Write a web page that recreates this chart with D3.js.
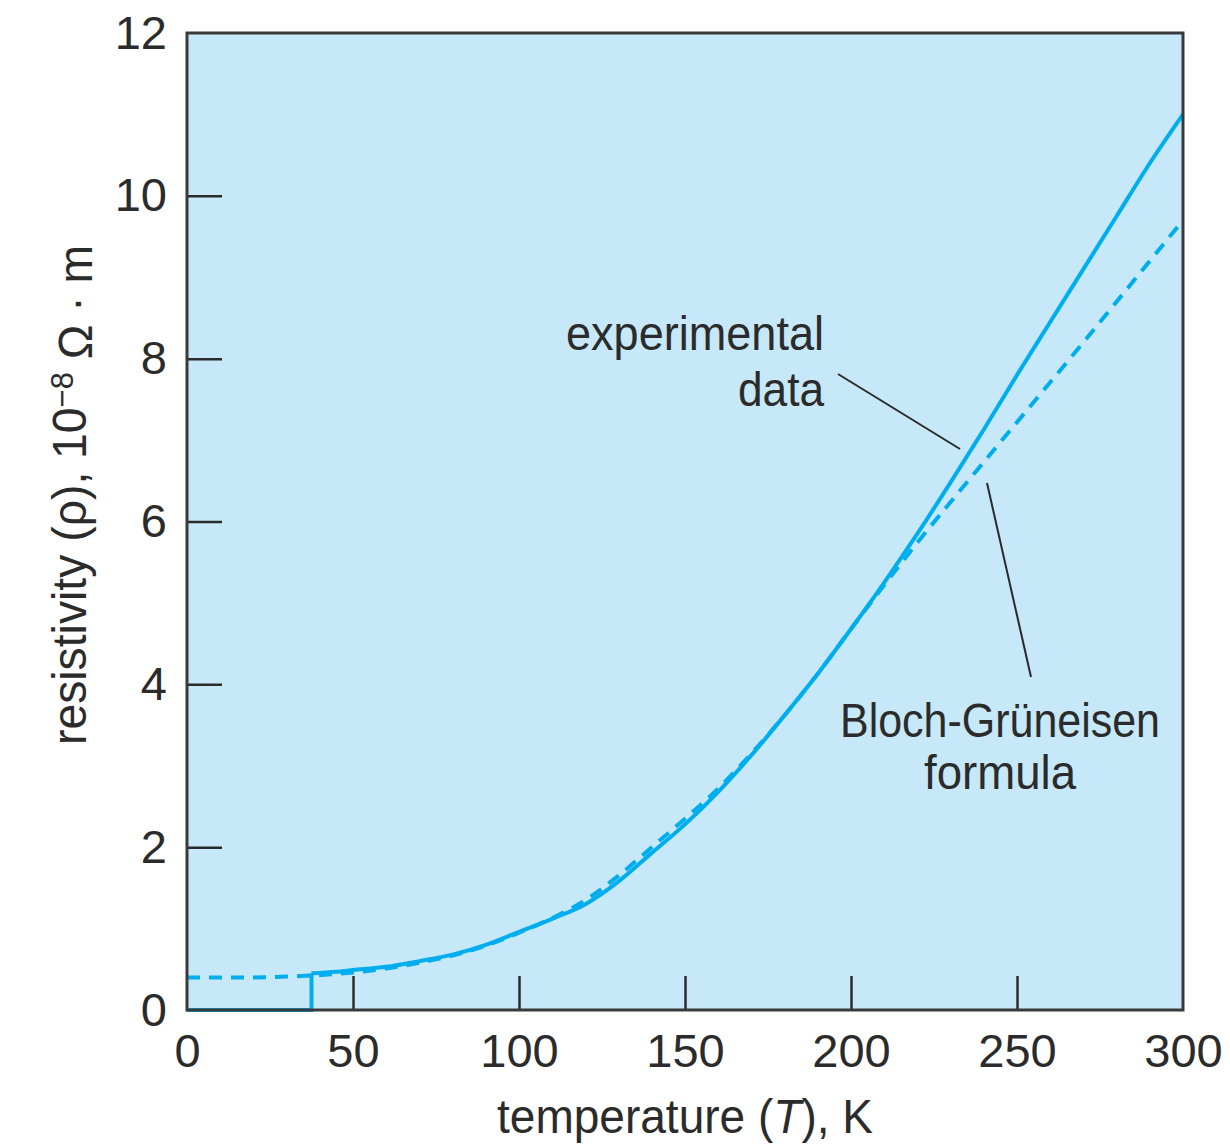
<html>
<head>
    <script src="https://d3js.org/d3.v7.min.js"></script>
    <style>
        body { margin: 0; background: #fff; }
    </style>
</head>
<body>
<div id="vis"></div>
<script>

    // temperature (K) and resistivity (10^-8 ohm m)
    var expT = [0, 37.5, 37.5, 45, 50, 60, 70, 80, 90, 100, 110, 120, 130, 140, 150, 160, 170, 180, 190, 200, 210, 220, 230, 240, 250, 260, 270, 280, 290, 300];
    var expRho = [0, 0, 0.45, 0.47, 0.49, 0.53, 0.60, 0.68, 0.80, 0.96, 1.12, 1.30, 1.58, 1.93, 2.28, 2.68, 3.13, 3.62, 4.13, 4.68, 5.25, 5.85, 6.48, 7.13, 7.80, 8.45, 9.10, 9.75, 10.40, 11.00];

    var bgT = [0, 10, 20, 30, 40, 50, 60, 70, 80, 90, 100, 110, 120, 130, 140, 150, 160, 170, 180, 190, 200, 210, 220, 230, 240, 250, 260, 270, 280, 290, 300];
    var bgRho = [0.40, 0.40, 0.40, 0.41, 0.43, 0.46, 0.51, 0.58, 0.67, 0.79, 0.95, 1.13, 1.35, 1.65, 2.00, 2.35, 2.72, 3.15, 3.62, 4.13, 4.68, 5.22, 5.74, 6.24, 6.73, 7.22, 7.71, 8.20, 8.70, 9.20, 9.70];

    var xTicks = [0, 50, 100, 150, 200, 250, 300];
    var yTicks = [0, 2, 4, 6, 8, 10, 12];

    var margin = { top: 33, right: 47, bottom: 135, left: 187 },
        width = 1230 - margin.left - margin.right,
        height = 1145 - margin.top - margin.bottom;

    var blue = "#00aeef";
    var ink = "#2b2b2b";
    var font = "'Liberation Sans', Arial, sans-serif";

    var svg = d3.select("#vis")
        .append("svg")
        .attr("width", 1230)
        .attr("height", 1145)
        .append("g")
        .attr("transform", "translate(" + margin.left + "," + margin.top + ")");

    var x = d3.scaleLinear().domain([0, 300]).range([0, width]);
    var y = d3.scaleLinear().domain([0, 12]).range([height, 0]);

    // plot background
    svg.append("rect")
        .attr("width", width)
        .attr("height", height)
        .attr("fill", "#c6e8f8");

    // axes with inward ticks
    var xAxis = svg.append("g")
        .attr("transform", "translate(0," + height + ")")
        .call(d3.axisBottom(x).tickValues(xTicks).tickSize(-34).tickPadding(24));
    var yAxis = svg.append("g")
        .call(d3.axisLeft(y).tickValues(yTicks).tickSize(-35).tickPadding(20));

    [xAxis, yAxis].forEach(function (a) {
        a.select(".domain").remove();
        a.selectAll("line").attr("stroke", ink).attr("stroke-width", 2.5);
        a.selectAll("text")
            .attr("fill", ink)
            .style("font-family", font)
            .style("font-size", "47px");
    });
    // no tick marks at the frame corners
    xAxis.selectAll(".tick").filter(function (d) { return d === 0 || d === 300; }).select("line").remove();
    yAxis.selectAll(".tick").filter(function (d) { return d === 0 || d === 12; }).select("line").remove();

    // curves
    var line = d3.line()
        .x(function (d) { return x(d[0]); })
        .y(function (d) { return y(d[1]); });

    svg.append("path")
        .datum(bgT.map(function (t, i) { return [t, bgRho[i]]; }))
        .attr("d", line.curve(d3.curveMonotoneX))
        .attr("fill", "none")
        .attr("stroke", blue)
        .attr("stroke-width", 4)
        .attr("stroke-dasharray", "13,9");

    var exp = expT.map(function (t, i) { return [t, expRho[i]]; });
    // step part (straight) then smooth part
    svg.append("path")
        .datum(exp.slice(0, 3))
        .attr("d", line.curve(d3.curveLinear))
        .attr("fill", "none")
        .attr("stroke", blue)
        .attr("stroke-width", 4)
        .attr("stroke-linejoin", "miter");
    svg.append("path")
        .datum(exp.slice(2))
        .attr("d", line.curve(d3.curveMonotoneX))
        .attr("fill", "none")
        .attr("stroke", blue)
        .attr("stroke-width", 4);

    // frame
    svg.append("rect")
        .attr("width", width)
        .attr("height", height)
        .attr("fill", "none")
        .attr("stroke", "#3a3a3a")
        .attr("stroke-width", 3);

    // condensed text via textLength
    function label(px, py, anchor, len, size, str) {
        return svg.append("text")
            .attr("x", px - margin.left).attr("y", py - margin.top)
            .attr("text-anchor", anchor)
            .attr("textLength", len)
            .attr("lengthAdjust", "spacingAndGlyphs")
            .style("font-family", font).style("font-size", size + "px")
            .attr("fill", ink)
            .text(str);
    }

    // annotations
    label(824, 350, "end", 258, 48, "experimental");
    label(824, 406, "end", 86, 48, "data");
    svg.append("line")
        .attr("x1", 838 - margin.left).attr("y1", 374 - margin.top)
        .attr("x2", 960 - margin.left).attr("y2", 449 - margin.top)
        .attr("stroke", ink).attr("stroke-width", 2);

    label(1000, 737, "middle", 320, 48, "Bloch-Grüneisen");
    label(1000, 789, "middle", 152, 48, "formula");
    svg.append("line")
        .attr("x1", 987 - margin.left).attr("y1", 483 - margin.top)
        .attr("x2", 1031 - margin.left).attr("y2", 677 - margin.top)
        .attr("stroke", ink).attr("stroke-width", 2);

    // x axis label
    var xl = svg.append("text")
        .attr("x", 685 - margin.left).attr("y", 1133 - margin.top)
        .attr("text-anchor", "middle")
        .attr("textLength", 376)
        .attr("lengthAdjust", "spacingAndGlyphs")
        .style("font-family", font).style("font-size", "48px").attr("fill", ink);
    xl.append("tspan").text("temperature (");
    xl.append("tspan").style("font-style", "italic").text("T");
    xl.append("tspan").text("), K");

    // y axis label
    var yl = svg.append("text")
        .attr("transform", "translate(" + (86 - margin.left) + "," + (495 - margin.top) + ")rotate(-90)")
        .attr("text-anchor", "middle")
        .attr("textLength", 500)
        .attr("lengthAdjust", "spacingAndGlyphs")
        .style("font-family", font).style("font-size", "48px").attr("fill", ink);
    yl.append("tspan").text("resistivity (ρ), 10");
    yl.append("tspan").attr("dy", "-0.4em").style("font-size", "32px").text("−8");
    yl.append("tspan").attr("dy", "0.4em").text(" Ω · m");

</script>
</body>
</html>
